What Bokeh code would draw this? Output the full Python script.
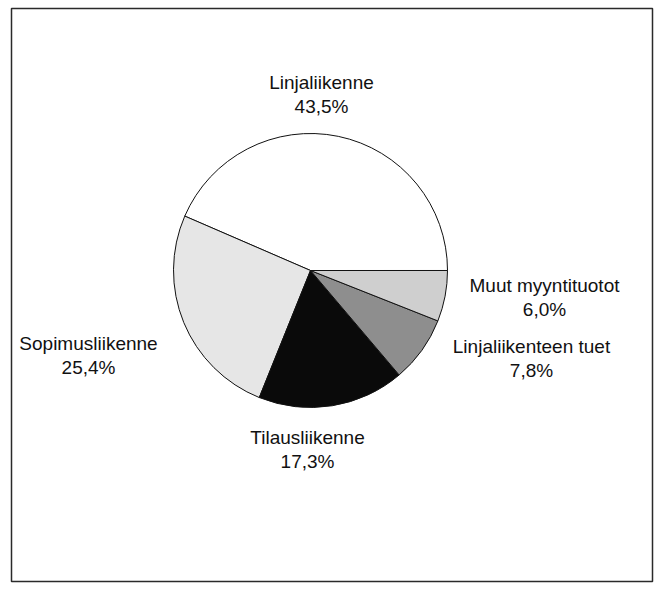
import math
from bokeh.plotting import figure
from bokeh.models import ColumnDataSource, Range1d
from bokeh.core.properties import value
from bokeh.embed import file_html
from bokeh.resources import INLINE

# ---- data ----
categories = ["Linjaliikenne", "Sopimusliikenne", "Tilausliikenne",
              "Linjaliikenteen tuet", "Muut myyntituotot"]
shares = [43.5, 25.4, 17.3, 7.8, 6.0]

# ---- styling / layout (not data) ----
fills = ["#ffffff", "#e6e6e6", "#0a0a0a", "#8e8e8e", "#cfcfcf"]
FW, FH = 641, 573            # frame size in px; 1 data unit = 1 px
cx, cy, R = 299, 311, 137
label_pos = [(310, 499), (77, 238), (296, 144), (520, 235), (533, 296)]
line_gap = 24

total = sum(shares)
starts, ends = [], []
acc = 0.0
for s in shares:
    starts.append(2 * math.pi * acc / total)
    acc += s
    ends.append(2 * math.pi * acc / total)

src = ColumnDataSource(dict(start=starts, end=ends, fill=fills))

p = figure(width=656, height=584, output_backend="svg", toolbar_location=None,
           x_range=Range1d(0, FW), y_range=Range1d(0, FH),
           x_axis_location=None, y_axis_location=None,
           min_border_left=11, min_border_right=4, min_border_top=8, min_border_bottom=3)
p.grid.visible = False
p.outline_line_color = "#2a2a2a"
p.outline_line_width = 1.5
p.background_fill_color = "white"
p.border_fill_color = "white"

p.wedge(x=cx, y=cy, radius=R, start_angle="start", end_angle="end",
        direction="anticlock", fill_color="fill", line_color="#111111",
        line_width=1, source=src)

pct = [f"{s:.1f}".replace(".", ",") + "%" for s in shares]
lx = [pos[0] for pos in label_pos]
ly1 = [pos[1] for pos in label_pos]
ly2 = [pos[1] - line_gap for pos in label_pos]
tsrc = ColumnDataSource(dict(x=lx, y1=ly1, y2=ly2, name=categories, pct=pct))
for ycol, tcol in (("y1", "name"), ("y2", "pct")):
    p.text(x="x", y=ycol, text=tcol, source=tsrc, text_align="center",
           text_baseline="middle", text_font=value("Liberation Sans"),
           text_font_size="19px", text_color="#111111")

open("out.html", "w").write(file_html(p, INLINE))
